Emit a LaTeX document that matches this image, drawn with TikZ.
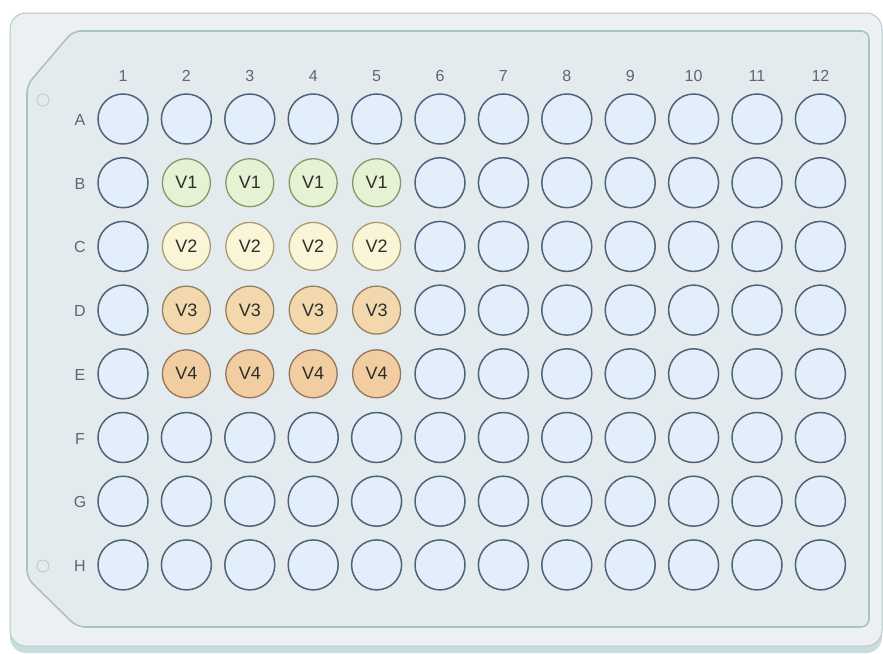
\documentclass[tikz,border=0pt]{standalone}
\usepackage{fontspec}
\setmainfont{Liberation Sans}
\definecolor{platebg}{HTML}{EDF0F3}
\definecolor{plateedge}{HTML}{B9C9CC}
\definecolor{innerbg}{HTML}{E4EBEE}
\definecolor{inneredge}{HTML}{A9C2C4}
\definecolor{baseband}{HTML}{C9DCE0}
\definecolor{wellfill}{HTML}{E2EEFA}
\definecolor{welledge}{HTML}{4D6478}
\definecolor{vafill}{HTML}{E5F2D4}
\definecolor{vaedge}{HTML}{7E9C68}
\definecolor{vbfill}{HTML}{FBF5D8}
\definecolor{vbedge}{HTML}{A89C72}
\definecolor{vcfill}{HTML}{F3D8AD}
\definecolor{vcedge}{HTML}{97805E}
\definecolor{vdfill}{HTML}{F2CDA2}
\definecolor{vdedge}{HTML}{95765A}
\definecolor{labelgray}{HTML}{5E6670}
\definecolor{vtext}{HTML}{2E2E2E}
\tikzset{
  well/.style={circle, draw=welledge, line width=1.5pt, fill=wellfill, minimum size=50pt, inner sep=0pt},
  vwell/.style={circle, line width=1.3pt, minimum size=48pt, inner sep=0pt, font=\fontsize{18}{18}\selectfont, text=vtext},
  va/.style={vwell, draw=vaedge, fill=vafill},
  vb/.style={vwell, draw=vbedge, fill=vbfill},
  vc/.style={vwell, draw=vcedge, fill=vcfill},
  vd/.style={vwell, draw=vdedge, fill=vdfill},
  collabel/.style={font=\fontsize{16}{16}\selectfont, text=labelgray},
  rowlabel/.style={font=\fontsize{16}{16}\selectfont, text=labelgray},
  notch/.style={circle, draw=plateedge, line width=0.8pt, minimum size=12pt, inner sep=0pt}
}
\begin{document}
\begin{tikzpicture}[x=1pt,y=-1pt]
\useasboundingbox (0,0) rectangle (883,653);
\fill[white] (0,0) rectangle (883,653);
% base band
\fill[baseband, rounded corners=16pt] (10,20) rectangle (882,653);
% outer plate
\filldraw[fill=platebg, draw=plateedge, line width=1pt, rounded corners=16pt] (10,13) rectangle (882,646);
% inner plate with chamfered left corners
\filldraw[fill=innerbg, draw=inneredge, line width=1.6pt, rounded corners=8pt]
  (73,31) -- (869,31) -- (869,627) -- (77,627) -- (27,578) -- (27,85) -- cycle;
% orientation marks
\node[notch] (m1) at (43,100) {};
\node[notch] (m2) at (43,566) {};
% column labels
\foreach \c in {1,...,12} {
  \node[collabel] (col\c) at ({123+(\c-1)*63.4},76) {\c};
}
% row labels
\foreach \r [count=\i from 0] in {A,B,C,D,E,F,G,H} {
  \node[rowlabel] (row\r) at (80,{120+\i*63.7}) {\r};
}
% blank wells
\foreach \r [count=\i from 0] in {A,B,C,D,E,F,G,H} {
  \foreach \c in {1,...,12} {
    \pgfmathtruncatemacro{\isv}{(\i>=1 && \i<=4 && \c>=2 && \c<=5) ? 1 : 0}
    \ifnum\isv=0
      \node[well] (w\r\c) at ({123+(\c-1)*63.4},{119+\i*63.7}) {};
    \fi
  }
}
% sample wells
\foreach \c in {2,...,5} {
  \node[va] (wB\c) at ({123+(\c-1)*63.4},{119+1*63.7}) {V1};
  \node[vb] (wC\c) at ({123+(\c-1)*63.4},{119+2*63.7}) {V2};
  \node[vc] (wD\c) at ({123+(\c-1)*63.4},{119+3*63.7}) {V3};
  \node[vd] (wE\c) at ({123+(\c-1)*63.4},{119+4*63.7}) {V4};
}
\end{tikzpicture}
\end{document}
